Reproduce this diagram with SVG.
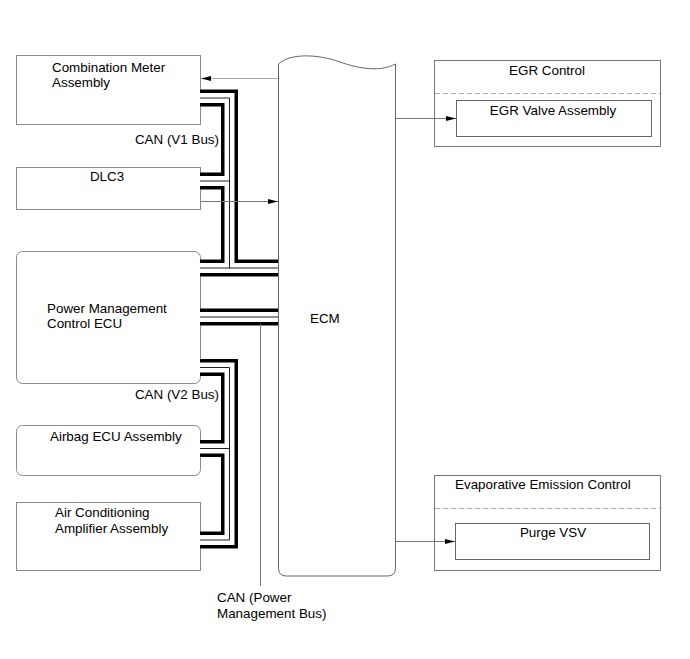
<svg xmlns="http://www.w3.org/2000/svg" width="690" height="659" viewBox="0 0 690 659">
<style>
text{font-family:"Liberation Sans",Arial,sans-serif;font-size:13.4px;fill:#000}
.box{fill:#fff;stroke:#8a8a8a;stroke-width:1}
.ecm{fill:#fff;stroke:#666;stroke-width:1}
.grp{fill:#fff;stroke:#777;stroke-width:1}
.dash{stroke:#aaa;stroke-width:1;stroke-dasharray:5,3;fill:none}
.sig{stroke:#777;stroke-width:1;fill:none;marker-end:url(#ah)}
.busO{stroke:#000;stroke-width:17;fill:none;stroke-linejoin:miter}
.busW{stroke:#fff;stroke-width:10;fill:none;stroke-linejoin:miter}
.busC{stroke:#222;stroke-width:1;fill:none}
.lead{stroke:#777;stroke-width:1;fill:none}
</style>
<defs>
<marker id="ah" markerWidth="10" markerHeight="6" refX="10" refY="3" orient="auto" markerUnits="userSpaceOnUse">
<path d="M0,0.5 L10,3 L0,5.5 Z" fill="#000"/>
</marker>
</defs>
<rect width="690" height="659" fill="#fff"/>

<g id="combination-meter">
<rect class="box" x="16.5" y="55.5" width="184" height="69"/>
<text x="52" y="72">Combination Meter</text>
<text x="52" y="87">Assembly</text>
</g>
<g id="dlc3">
<rect class="box" x="16.5" y="167.5" width="184" height="42"/>
<text x="107" y="181" text-anchor="middle">DLC3</text>
</g>
<g id="power-management-ecu">
<rect class="box" x="16.5" y="251.5" width="184" height="132" rx="6"/>
<text x="47" y="313">Power Management</text>
<text x="47" y="328">Control ECU</text>
</g>
<g id="airbag-ecu">
<rect class="box" x="16.5" y="425.5" width="184" height="50" rx="6"/>
<text x="50" y="441">Airbag ECU Assembly</text>
</g>
<g id="ac-amplifier">
<rect class="box" x="16.5" y="502.5" width="184" height="68"/>
<text x="55" y="517">Air Conditioning</text>
<text x="55" y="533">Amplifier Assembly</text>
</g>
<g id="ecm">
<path class="ecm" d="M278.5,64 C290,53 318,54 340,62 C360,69 380,72 395.5,64 V568 Q395.5,576 387.5,576 H286.5 Q278.5,576 278.5,568 Z"/>
<text x="310" y="323">ECM</text>
</g>
<g id="egr-control">
<rect class="grp" x="434.5" y="60.5" width="226" height="86"/>
<line class="dash" x1="435" y1="93.5" x2="660" y2="93.5"/>
<text x="547" y="75" text-anchor="middle">EGR Control</text>
</g>
<g id="egr-valve">
<rect class="box" x="456.5" y="100.5" width="195" height="36" style="stroke:#666"/>
<text x="553" y="115" text-anchor="middle">EGR Valve Assembly</text>
</g>
<g id="evap-control">
<rect class="grp" x="434.5" y="475.5" width="226" height="95"/>
<line class="dash" x1="435" y1="508.5" x2="660" y2="508.5"/>
<text x="455" y="489">Evaporative Emission Control</text>
</g>
<g id="purge-vsv">
<rect class="box" x="455.5" y="523.5" width="194" height="36" style="stroke:#666"/>
<text x="553" y="537" text-anchor="middle">Purge VSV</text>
</g>

<g id="connectors">
<g id="buses">
<path class="busO" d="M200,98 H229.5 V268 H278 M200,181 H229.5 M200,268 H230"/>
<path class="busO" d="M200,317 H278"/>
<path class="busO" d="M200,367.5 H229.5 V540 H200 M200,448.5 H229.5"/>
<path class="busW" d="M200,98 H229.5 V268 H278 M200,181 H229.5 M200,268 H230"/>
<path class="busW" d="M200,317 H278"/>
<path class="busW" d="M200,367.5 H229.5 V540 H200 M200,448.5 H229.5"/>
<path class="busC" d="M200,98 H229.5 V268 H278 M200,181 H229.5 M200,268 H230"/>
<path class="busC" d="M200,317 H278"/>
<path class="busC" d="M200,367.5 H229.5 V540 H200 M200,448.5 H229.5"/>
</g>
<path class="sig" d="M278,78.5 H201" style="stroke:#aaa"/>
<path class="sig" d="M201,201.5 H278"/>
<path class="sig" d="M396,118.5 H456"/>
<path class="sig" d="M396,541.5 H455"/>
<path class="lead" d="M260.5,324 V586"/>
</g>

<text x="219" y="144" text-anchor="end">CAN (V1 Bus)</text>
<text x="219" y="399" text-anchor="end">CAN (V2 Bus)</text>
<text x="217" y="602">CAN (Power</text>
<text x="217" y="618">Management Bus)</text>
</svg>
